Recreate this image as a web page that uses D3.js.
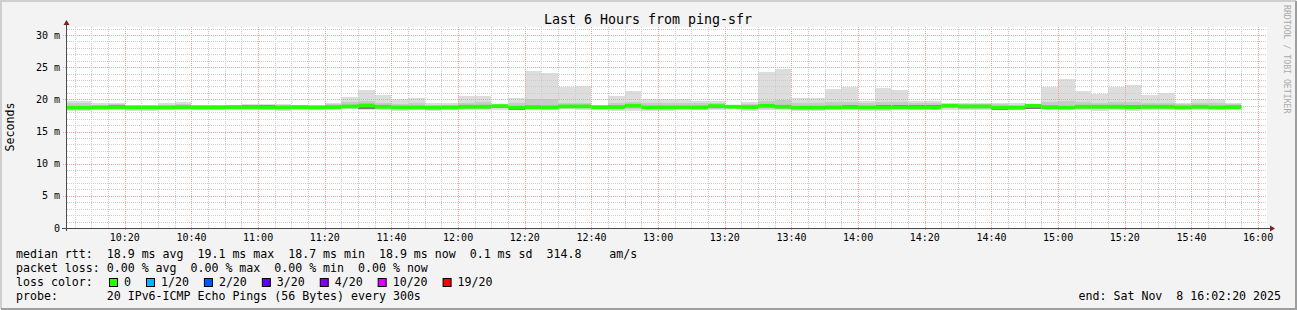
<!DOCTYPE html>
<html>
<head>
<meta charset="utf-8">
<script src="https://cdn.jsdelivr.net/npm/d3@7"></script>
<style>
body { margin: 0; background: #f3f3f3; }
text { font-family: "DejaVu Sans Mono", monospace; white-space: pre; }
</style>
</head>
<body>
<svg width="1297" height="310"></svg>
<script>
// 5 minute buckets, 10:00 .. 15:50 (71 of them), values in ms
var maxRtt = [19.8,19.8,19.4,19.5,19.1,19.1,19.5,19.65,19.2,19.2,
	19.2,19.3,19.3,19.3,19.2,19.1,19.5,20.4,21.45,20.7,
	20.05,20.2,19.5,19.4,20.5,20.5,19.3,20.15,24.4,24.1,
	21.9,22.1,19.2,20.5,21.3,20.0,20.0,20.0,19.75,19.75,
	19.2,19.6,24.25,24.7,20.15,20.15,21.6,21.9,19.8,21.8,
	21.4,19.8,19.8,19.5,19.5,19.5,19.5,19.4,19.3,21.95,
	23.15,21.3,20.9,21.9,22.2,20.7,21.0,19.5,20.0,20.0,
	19.5];

var hiRtt = [19.4,19.4,19.2,19.3,19.0,19.0,19.2,19.3,19.1,19.1,
	19.1,19.2,19.2,19.2,19.1,19.0,19.3,19.6,19.8,19.5,
	19.3,19.4,19.2,19.2,19.5,19.6,19.2,19.4,20.0,20.0,
	19.5,19.5,19.1,19.4,19.6,19.4,19.4,19.4,19.4,19.5,
	19.1,19.3,19.8,19.9,19.4,19.4,19.6,19.6,19.4,19.6,
	19.6,19.4,19.4,19.3,19.3,19.3,19.3,19.2,19.2,19.6,
	19.8,19.6,19.5,19.6,19.6,19.5,19.5,19.3,19.5,19.5,
	19.3];

var darkHi = [18.85,18.85,18.9,19.2,18.9,18.9,18.9,18.95,18.9,18.9,
	18.95,19.05,19.05,18.9,18.95,18.9,18.95,19.05,19.2,19.0,
	18.9,18.9,18.85,18.9,19.0,19.0,19.1,18.85,18.95,18.9,
	19.05,19.15,18.9,18.95,19.15,18.9,18.9,18.9,18.9,19.15,
	19.0,18.95,19.15,19.15,18.85,18.85,18.9,19.1,18.9,19.1,
	19.15,19.1,19.1,19.15,19.05,19.05,18.85,18.85,19.15,18.95,
	18.85,19.15,19.2,19.1,19.1,19.0,19.0,18.9,19.0,18.9,
	18.95];

var medRtt = [18.7,18.7,18.75,18.8,18.75,18.75,18.75,18.8,18.75,18.75,
	18.8,18.8,18.75,18.75,18.8,18.75,18.8,18.9,19.05,18.85,
	18.75,18.75,18.7,18.75,18.85,18.85,18.95,18.7,18.8,18.75,
	18.9,18.9,18.75,18.8,19.0,18.75,18.75,18.75,18.75,18.95,
	18.85,18.8,19.0,18.85,18.7,18.7,18.75,18.8,18.75,18.75,
	18.75,18.75,18.75,19.0,18.9,18.9,18.7,18.7,19.0,18.8,
	18.7,18.85,18.85,18.85,18.8,18.85,18.85,18.75,18.85,18.75,
	18.8];

var darkLo = [18.55,18.55,18.6,18.65,18.6,18.6,18.6,18.65,18.6,18.6,
	18.65,18.65,18.6,18.6,18.65,18.6,18.65,18.6,18.45,18.6,
	18.6,18.6,18.55,18.6,18.7,18.7,18.8,18.4,18.65,18.6,
	18.75,18.75,18.6,18.65,18.85,18.6,18.6,18.6,18.6,18.8,
	18.7,18.65,18.85,18.7,18.55,18.55,18.6,18.65,18.6,18.6,
	18.6,18.6,18.6,18.85,18.75,18.75,18.4,18.55,18.5,18.65,
	18.55,18.7,18.7,18.7,18.5,18.7,18.7,18.5,18.7,18.6,
	18.65];

var loRtt = [18.45,18.45,18.5,18.5,18.45,18.45,18.5,18.5,18.5,18.5,
	18.55,18.5,18.5,18.45,18.5,18.5,18.55,18.6,18.5,18.5,
	18.45,18.5,18.45,18.5,18.55,18.5,18.6,18.45,18.5,18.5,
	18.6,18.6,18.6,18.45,18.5,18.45,18.45,18.6,18.55,18.5,
	18.6,18.45,18.55,18.5,18.45,18.45,18.5,18.55,18.45,18.45,
	18.6,18.5,18.55,18.6,18.55,18.55,18.45,18.45,18.6,18.55,
	18.55,18.5,18.45,18.55,18.45,18.55,18.5,18.5,18.55,18.5,
	18.55];

var minRtt = [18.25,18.25,18.3,18.3,18.25,18.25,18.3,18.35,18.3,18.3,
	18.35,18.3,18.3,18.25,18.3,18.3,18.35,18.45,18.3,18.3,
	18.25,18.3,18.25,18.3,18.35,18.3,18.4,18.3,18.3,18.35,
	18.45,18.4,18.45,18.2,18.25,18.2,18.2,18.5,18.35,18.3,
	18.5,18.25,18.35,18.3,18.2,18.25,18.3,18.35,18.25,18.25,
	18.5,18.35,18.4,18.4,18.35,18.35,18.3,18.3,18.45,18.35,
	18.5,18.3,18.25,18.35,18.25,18.35,18.3,18.3,18.35,18.3,
	18.35];

var yTicks = [0, 5, 10, 15, 20, 25, 30];
var lossLabels = ["0", "1/20", "2/20", "3/20", "4/20", "10/20", "19/20"];
var lossColors = ["#26ff00", "#00b8ff", "#0059ff", "#5e00ff", "#7e00ff", "#dd00ff", "#ff0000"];

var legendLines = [
	"median rtt:  18.9 ms avg  19.1 ms max  18.7 ms min  18.9 ms now  0.1 ms sd  314.8    am/s",
	"packet loss: 0.00 % avg  0.00 % max  0.00 % min  0.00 % now",
	"loss color:",
	"probe:       20 IPv6-ICMP Echo Pings (56 Bytes) every 300s"
];

var tStart = new Date(2025, 10, 8, 10, 2, 40),
	tEnd = new Date(2025, 10, 8, 16, 2, 40);
var buckets = d3.timeMinute.every(5).range(new Date(2025, 10, 8, 10, 0), new Date(2025, 10, 8, 15, 55));

var svg = d3.select("svg"),
	W = +svg.attr("width"),
	H = +svg.attr("height");

var pLeft = 67, pRight = 1267, pTop = 27, pBottom = 228;

var x = d3.scaleTime().domain([tStart, tEnd]).range([pLeft, pRight]);
var y = d3.scaleLinear().domain([0, 31.25]).range([pBottom, pTop]);

// background + 3d frame
svg.append("rect").attr("width", W).attr("height", H).attr("fill", "#f3f3f3");
svg.append("path").attr("d", "M1," + (H - 1) + "V1H" + (W - 1)).attr("fill", "none").attr("stroke", "#cfcfcf").attr("stroke-width", 2);
svg.append("path").attr("d", "M1," + (H - 1) + "H" + (W - 1) + "V1").attr("fill", "none").attr("stroke", "#9e9e9e").attr("stroke-width", 2);

svg.append("rect").attr("x", pLeft).attr("y", pTop).attr("width", pRight - pLeft).attr("height", pBottom - pTop).attr("fill", "#ffffff");

svg.append("clipPath").attr("id", "plot").append("rect")
	.attr("x", pLeft).attr("y", pTop).attr("width", pRight - pLeft).attr("height", pBottom - pTop);

var data = buckets.map(function(t, i) {
	return {
		t0: t, t1: d3.timeMinute.offset(t, 5),
		max: maxRtt[i], hi: hiRtt[i], dHi: darkHi[i], med: medRtt[i],
		dLo: darkLo[i], lo: loRtt[i], min: minRtt[i]
	};
});

var g = svg.append("g").attr("clip-path", "url(#plot)");

function layer(topKey, botKey, color) {
	g.append("g").selectAll("rect")
		.data(data)
		.enter().append("rect")
		.attr("x", function(d) { return x(d.t0); })
		.attr("width", function(d) { return x(d.t1) - x(d.t0); })
		.attr("y", function(d) { return y(d[topKey]); })
		.attr("height", function(d) { return y(d[botKey]) - y(d[topKey]); })
		.attr("fill", color)
		.attr("shape-rendering", "crispEdges");
}

// smoke
layer("max", "min", "#dddddd");
layer("hi", "lo", "#c9c9c9");
layer("dHi", "dLo", "#7c7c7c");

// grid (over the smoke)
var minorY = d3.range(1, 32).filter(function(v) { return v % 5 != 0; });
svg.append("g").selectAll("line")
	.data(minorY)
	.enter().append("line")
	.attr("x1", pLeft).attr("x2", pRight)
	.attr("y1", function(d) { return Math.round(y(d)) + 0.5; })
	.attr("y2", function(d) { return Math.round(y(d)) + 0.5; })
	.attr("stroke", "#cccccc").attr("stroke-dasharray", "1,1");

var minorX = d3.timeMinute.every(5).range(tStart, tEnd).filter(function(t) { return t.getMinutes() % 20 != 0; });
svg.append("g").selectAll("line")
	.data(minorX)
	.enter().append("line")
	.attr("x1", function(d) { return Math.round(x(d)) + 0.5; })
	.attr("x2", function(d) { return Math.round(x(d)) + 0.5; })
	.attr("y1", pTop).attr("y2", pBottom)
	.attr("stroke", "#cccccc").attr("stroke-dasharray", "1,1");

var majorX = d3.timeMinute.every(20).range(tStart, tEnd);
svg.append("g").selectAll("line")
	.data(majorX)
	.enter().append("line")
	.attr("x1", function(d) { return Math.round(x(d)) + 0.5; })
	.attr("x2", function(d) { return Math.round(x(d)) + 0.5; })
	.attr("y1", pTop).attr("y2", pBottom + 3)
	.attr("stroke", "#f5a0a0").attr("stroke-dasharray", "1,1");

svg.append("g").selectAll("line")
	.data(yTicks.slice(1))
	.enter().append("line")
	.attr("x1", pLeft - 4).attr("x2", pRight)
	.attr("y1", function(d) { return Math.round(y(d)) + 0.5; })
	.attr("y2", function(d) { return Math.round(y(d)) + 0.5; })
	.attr("stroke", "#f5a0a0").attr("stroke-dasharray", "1,1");

// median band, coloured by loss (all 0 here), on top of the grid
svg.append("g").attr("clip-path", "url(#plot)").selectAll("rect")
	.data(data)
	.enter().append("rect")
	.attr("x", function(d) { return x(d.t0); })
	.attr("width", function(d) { return x(d.t1) - x(d.t0); })
	.attr("y", function(d) { return y(d.med) - 1.9; })
	.attr("height", 3.8)
	.attr("fill", lossColors[0]);

// axes
var axisColor = "#4a4a4a", arrowColor = "#7d1f1f";
svg.append("line").attr("x1", pLeft - 5).attr("x2", pRight + 5)
	.attr("y1", pBottom + 0.5).attr("y2", pBottom + 0.5).attr("stroke", axisColor);
svg.append("line").attr("x1", pLeft - 0.5).attr("x2", pLeft - 0.5)
	.attr("y1", pBottom + 3).attr("y2", pTop - 5).attr("stroke", axisColor);
svg.append("path").attr("d", "M" + (pRight + 3) + "," + (pBottom - 2.5) + "L" + (pRight + 8) + "," + (pBottom + 0.5) + "L" + (pRight + 3) + "," + (pBottom + 3.5) + "Z").attr("fill", arrowColor);
svg.append("path").attr("d", "M" + (pLeft - 3.5) + "," + (pTop - 2) + "L" + (pLeft - 0.5) + "," + (pTop - 7) + "L" + (pLeft + 2.5) + "," + (pTop - 2) + "Z").attr("fill", arrowColor);

// tick labels
svg.append("g").selectAll("text")
	.data(yTicks)
	.enter().append("text")
	.attr("x", pLeft - 7)
	.attr("y", function(d) { return y(d) + 3.5; })
	.attr("text-anchor", "end")
	.attr("font-size", "10px")
	.attr("fill", "#000")
	.text(function(d) { return d == 0 ? "0" : d + " m"; });

svg.append("g").selectAll("text")
	.data(majorX)
	.enter().append("text")
	.attr("x", function(d) { return x(d); })
	.attr("y", 241)
	.attr("text-anchor", "middle")
	.attr("font-size", "10px")
	.attr("fill", "#000")
	.text(d3.timeFormat("%H:%M"));

// titles
svg.append("text").attr("x", 648).attr("y", 24).attr("text-anchor", "middle")
	.attr("font-size", "13.3px").attr("fill", "#000").text("Last 6 Hours from ping-sfr");

svg.append("text").attr("transform", "translate(14,127) rotate(-90)").attr("text-anchor", "middle")
	.attr("font-size", "11.6px").attr("fill", "#000").text("Seconds");

svg.append("text").attr("transform", "translate(1284,5) rotate(90)")
	.attr("font-size", "8.2px").attr("fill", "#aaaaaa").text("RRDTOOL / TOBI OETIKER");

// legend
svg.append("g").selectAll("text")
	.data(legendLines)
	.enter().append("text")
	.attr("x", 16)
	.attr("y", function(d, i) { return 258 + i * 14; })
	.attr("font-size", "11.6px")
	.attr("fill", "#000")
	.text(function(d) { return d; });

var cursor = 109;
lossLabels.forEach(function(lbl, i) {
	svg.append("rect").attr("x", cursor + 0.5).attr("y", 278.5).attr("width", 8).attr("height", 8)
		.attr("fill", lossColors[i]).attr("stroke", "#000");
	var t = svg.append("text").attr("x", cursor + 15).attr("y", 286)
		.attr("font-size", "11.6px").attr("fill", "#000").text(lbl);
	cursor += 15 + t.node().getComputedTextLength() + 15;
});

svg.append("text").attr("x", 1281).attr("y", 300).attr("text-anchor", "end")
	.attr("font-size", "11.6px").attr("fill", "#000").text("end: Sat Nov  8 16:02:20 2025");
</script>
</body>
</html>
